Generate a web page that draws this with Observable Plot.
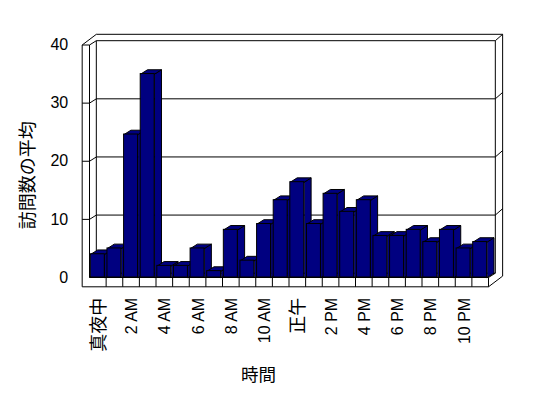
<!DOCTYPE html>
<html>
<head>
<meta charset="utf-8">
<script src="https://cdn.jsdelivr.net/npm/d3@7"></script>
<script src="https://cdn.jsdelivr.net/npm/@observablehq/plot@0.6"></script>
<style>
  html, body { margin: 0; padding: 0; background: #fff; }
</style>
</head>
<body>
<div id="chart"></div>
<script>
// ---- data ----
const hours = [0,1,2,3,4,5,6,7,8,9,10,11,12,13,14,15,16,17,18,19,20,21,22,23];
const visits = [4.0, 5.0, 24.6, 35.0, 2.0, 2.0, 5.0, 1.1, 8.2, 2.9, 9.2, 13.3,
                16.4, 9.2, 14.4, 11.3, 13.3, 7.15, 7.15, 8.2, 6.1, 8.2, 5.0, 6.1];
const tickHours = [0, 2, 4, 6, 8, 10, 12, 14, 16, 18, 20, 22];
const tickLabels = ["真夜中", "2 AM", "4 AM", "6 AM", "8 AM", "10 AM", "正午",
                    "2 PM", "4 PM", "6 PM", "8 PM", "10 PM"];
const yTicks = [0, 10, 20, 30, 40];
const yTitle = "訪問数の平均";
const xTitle = "時間";

// ---- 3D geometry (data units) ----
const L = -0.5, R = 23.5, T = 40;
const D1x = 0.41, D1y = 0.74;   // depth of bars / back wall front plane
const D2x = 0.44, D2y = 1.1;    // back wall thickness
const LW = 0.44;                // left wall thickness
const FT = 1.6;                 // floor thickness
const hw = 0.42;                // half bar width
const navy = "#000080";

const segs = [];
const seg = (x1, y1, x2, y2) => segs.push({x1, y1, x2, y2});
// outer silhouette
seg(L - LW, -FT, L - LW, T);
seg(L - LW, T, L - LW + D1x + D2x, T + D1y + D2y);
seg(L - LW + D1x + D2x, T + D1y + D2y, R + D1x + D2x, T + D1y + D2y);
seg(R + D1x + D2x, T + D1y + D2y, R + D1x + D2x, -FT + D1y + D2y);
seg(R + D1x + D2x, -FT + D1y + D2y, R, -FT);
seg(R, -FT, L - LW, -FT);
// left wall
seg(L - LW, T, L, T);
seg(L, 0, L, T);
seg(L, T, L + D1x, T + D1y);
// back wall
seg(L + D1x, T + D1y, R + D1x, T + D1y);
seg(L + D1x, D1y, L + D1x, T + D1y);
seg(R + D1x, D1y, R + D1x, T + D1y);
seg(R + D1x, T + D1y, R + D1x + D2x, T + D1y + D2y);
// floor
seg(L, 0, R, 0);
seg(L, 0, L + D1x, D1y);
seg(R, 0, R + D1x, D1y);
seg(L + D1x, D1y, R + D1x, D1y);
for (let k = 1; k <= hours.length; k++) seg(L + k, -FT, L + k, 0);
// gridlines
for (const v of yTicks.filter(v => v > 0 && v < T)) {
  seg(L - LW, v, L, v);
  seg(L, v, L + D1x, v + D1y);
  seg(L + D1x, v + D1y, R + D1x, v + D1y);
  seg(R + D1x, v + D1y, R + D1x + D2x, v + D1y + D2y);
}

const bars = hours.map((h, i) => ({h, v: visits[i]}));
const sides = bars.flatMap(({h, v}) => [
  {h, x: h + hw, y: 0},
  {h, x: h + hw + D1x, y: D1y},
  {h, x: h + hw + D1x, y: v + D1y},
  {h, x: h + hw, y: v}
]);
const tops = bars.flatMap(({h, v}) => [
  {h, x: h - hw, y: v},
  {h, x: h - hw + D1x, y: v + D1y},
  {h, x: h + hw + D1x, y: v + D1y},
  {h, x: h + hw, y: v}
]);

const isCJK = s => /[\u3000-\u9fff]/.test(s);
const font = "'Liberation Sans', 'Noto Sans CJK JP', sans-serif";

const chart = Plot.plot({
  width: 548,
  height: 398,
  marginLeft: 89,
  marginRight: 60,
  marginTop: 44.5,
  marginBottom: 121,
  x: {type: "linear", domain: [L, R], axis: null},
  y: {type: "linear", domain: [0, T], axis: null},
  style: {fontFamily: font, background: "#fff", color: "#000"},
  marks: [
    Plot.link(segs, {x1: "x1", y1: "y1", x2: "x2", y2: "y2", stroke: "#000", strokeWidth: 1}),
    Plot.line(sides, {x: "x", y: "y", z: "h", fill: navy, stroke: "#000", strokeWidth: 1, curve: "linear-closed"}),
    Plot.line(tops, {x: "x", y: "y", z: "h", fill: navy, stroke: "#000", strokeWidth: 1, curve: "linear-closed"}),
    Plot.rect(bars, {x1: d => d.h - hw, x2: d => d.h + hw, y1: 0, y2: "v", fill: navy, stroke: "#000", strokeWidth: 1}),
    Plot.text(yTicks, {x: L - LW, y: d => d, text: d => String(d), textAnchor: "end", dx: -14, fontSize: 16, fill: "#000"}),
    Plot.text(tickHours, {
      x: d => d, y: -FT, text: (d, i) => tickLabels[i], rotate: -90, textAnchor: "end",
      dx: 1, dy: 11, fontSize: (d, i) => isCJK(tickLabels[i]) ? 18 : 16, fill: "#000"
    }),
    Plot.text([yTitle], {frameAnchor: "left", text: d => d, rotate: -90, textAnchor: "middle", lineAnchor: "middle",
      dx: -61.5, dy: 14, fontSize: 18, fill: "#000"}),
    Plot.text([xTitle], {frameAnchor: "bottom", text: d => d, textAnchor: "middle", lineAnchor: "middle",
      dx: -30.5, dy: 98.3, fontSize: 17.5, fill: "#000"})
  ]
});
document.getElementById("chart").appendChild(chart);
</script>
</body>
</html>
